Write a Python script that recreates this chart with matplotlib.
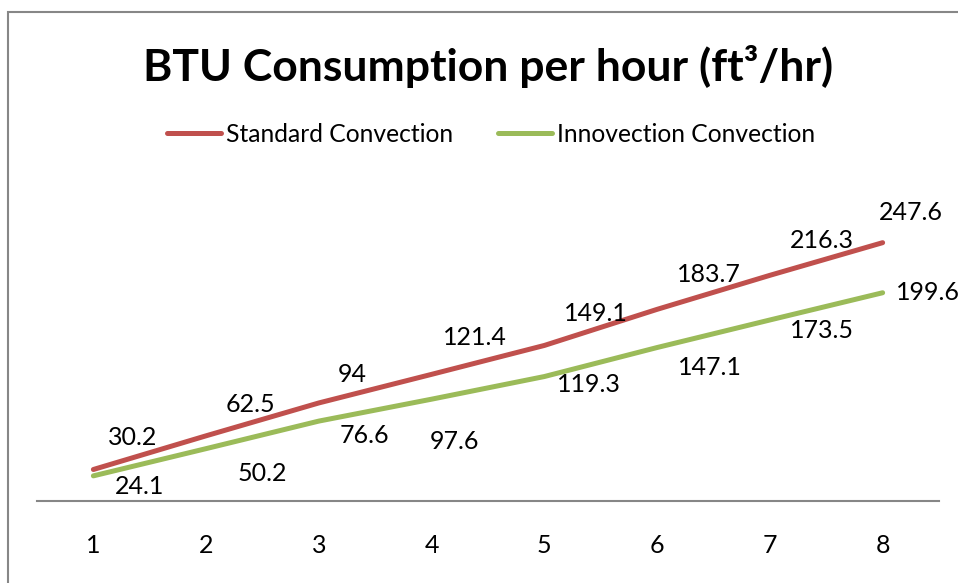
import matplotlib
matplotlib.use('Agg')
import matplotlib.pyplot as plt
from matplotlib.patches import Rectangle

plt.rcParams['font.family'] = ['Lato', 'DejaVu Sans']

hours = [1, 2, 3, 4, 5, 6, 7, 8]
standard = [30.2, 62.5, 94, 121.4, 149.1, 183.7, 216.3, 247.6]
innovection = [24.1, 50.2, 76.6, 97.6, 119.3, 147.1, 173.5, 199.6]

# label offsets in pixels (dx, dy), as placed in the original
std_off = [(39, 32), (44, 31), (33, 28), (43, 37), (52, 32), (52, 35), (52, 35), (28, 30)]
inn_off = [(46, -11), (56, -25), (46, -14), (23, -42), (45, -8), (53, -20), (52, -11), (45, 0)]

red = '#C0504D'
green = '#9BBB59'

fig = plt.figure(figsize=(9.58, 5.83), dpi=100)
ax = fig.add_axes([37/958, 1-501/583, (939-37)/958, (501-188)/583])

ax.plot(hours, standard, color=red, lw=3.6, solid_capstyle='round', label='Standard Convection')
ax.plot(hours, innovection, color=green, lw=3.6, solid_capstyle='round', label='Innovection Convection')

for x, v, (dx, dy) in zip(hours, standard, std_off):
    ax.annotate(str(v), (x, v), xytext=(dx, dy), textcoords='offset pixels',
                ha='center', va='center', fontsize=18)
for x, v, (dx, dy) in zip(hours, innovection, inn_off):
    ax.annotate(str(v), (x, v), xytext=(dx, dy), textcoords='offset pixels',
                ha='center', va='center', fontsize=18, annotation_clip=False)

ax.set_xlim(0.5, 8.5)
ax.set_ylim(0, 300)
for s in ['top', 'right', 'left']:
    ax.spines[s].set_visible(False)
ax.spines['bottom'].set_color('#868686')
ax.spines['bottom'].set_linewidth(1.5)
ax.set_yticks([])
ax.set_xticks(hours)
ax.tick_params(axis='x', length=0, pad=24, labelsize=18)

fig.text(0.509, 1-67/583, 'BTU Consumption per hour (ft\u00b3/hr)', ha='center', va='center',
         fontsize=32, fontweight='bold')

fig.legend(loc='center', bbox_to_anchor=(491/958, 1-134/583), ncol=2, frameon=False,
           fontsize=17.7, handlelength=2.2, handletextpad=0.2, columnspacing=1.85)

fig.patches.append(Rectangle((8/958, -0.1), 1.2, 1.1 - 12/583, transform=fig.transFigure,
                             fill=False, edgecolor='#878787', lw=1.5))

fig.savefig('out.png', dpi=100)
